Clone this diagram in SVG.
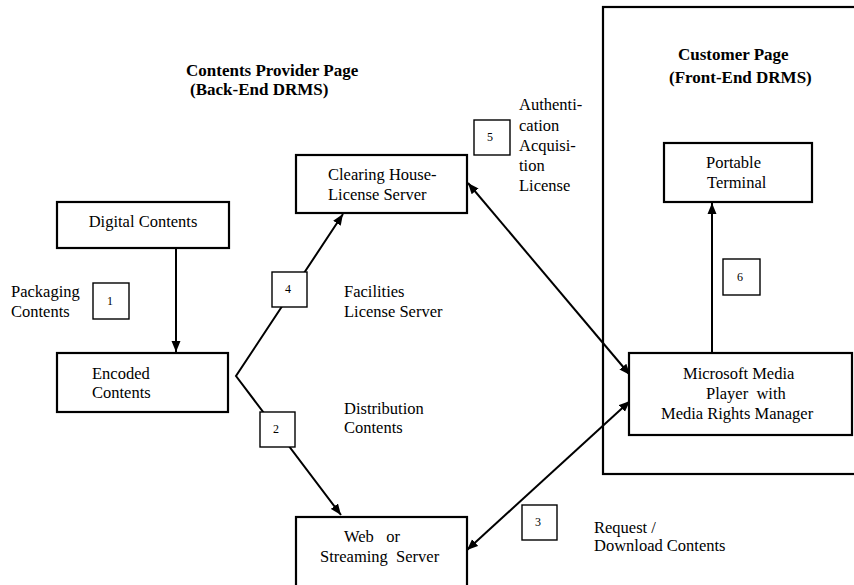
<svg xmlns="http://www.w3.org/2000/svg" width="854" height="585" viewBox="0 0 854 585">
<defs>
<style>
.bg{fill:#fff}
.box{fill:#fff;stroke:#000;stroke-width:2.2}
.nbox{fill:#fff;stroke:#000;stroke-width:1.4}
.t{font-family:"Liberation Serif","Times New Roman",serif;font-size:16.5px;fill:#000}
.b{font-family:"Liberation Serif","Times New Roman",serif;font-size:17px;font-weight:bold;fill:#000}
.n{font-family:"Liberation Serif","Times New Roman",serif;font-size:12px;fill:#000;text-anchor:middle}
.c{text-anchor:middle}
.ln{fill:none;stroke:#000;stroke-width:2}
</style>
<marker id="ah" markerUnits="userSpaceOnUse" markerWidth="12" markerHeight="10" refX="11" refY="4.5" orient="auto-start-reverse" viewBox="0 0 12 9">
<path d="M0,0 L11,4.5 L0,9 z" fill="#000"/>
</marker>
</defs>
<rect class="bg" x="0" y="0" width="854" height="585"/>

<g id="customer-page">
<rect x="603" y="7" width="260" height="467" fill="none" stroke="#000" stroke-width="2.2"/>
<text class="b" x="678" y="60">Customer Page</text>
<text class="b" x="669" y="83">(Front-End DRMS)</text>
</g>

<g id="provider-title">
<text class="b" x="186" y="76">Contents Provider Page</text>
<text class="b" x="190" y="95">(Back-End DRMS)</text>
</g>

<g id="connectors">
<line class="ln" x1="176" y1="248" x2="176" y2="352" marker-end="url(#ah)"/>
<polyline class="ln" points="343,214 236,376 341,515" marker-start="url(#ah)" marker-end="url(#ah)"/>
<line class="ln" x1="468" y1="183" x2="630" y2="375" marker-start="url(#ah)" marker-end="url(#ah)"/>
<line class="ln" x1="467" y1="550" x2="630" y2="401" marker-start="url(#ah)" marker-end="url(#ah)"/>
<line class="ln" x1="712" y1="353" x2="712" y2="203" marker-end="url(#ah)"/>
</g>

<g id="digital-contents">
<rect class="box" x="57" y="202" width="172" height="46"/>
<text class="t c" x="143" y="227">Digital Contents</text>
</g>

<g id="encoded-contents">
<rect class="box" x="57" y="353" width="171" height="59"/>
<text class="t" x="92" y="379">Encoded</text>
<text class="t" x="92" y="398">Contents</text>
</g>

<g id="label-packaging">
<text class="t" x="11" y="297">Packaging</text>
<text class="t" x="11" y="317">Contents</text>
<rect class="nbox" x="93" y="283" width="36" height="36"/>
<text class="n" x="110" y="305">1</text>
</g>

<g id="clearing-house">
<rect class="box" x="296" y="155" width="171" height="58"/>
<text class="t" x="328" y="180">Clearing House-</text>
<text class="t" x="328" y="200">License Server</text>
</g>

<g id="label-facilities">
<rect class="nbox" x="272" y="272" width="35" height="35"/>
<text class="n" x="288" y="293">4</text>
<text class="t" x="344" y="297">Facilities</text>
<text class="t" x="344" y="317">License Server</text>
</g>

<g id="label-distribution">
<rect class="nbox" x="260" y="412" width="35" height="35"/>
<text class="n" x="276" y="433">2</text>
<text class="t" x="344" y="414">Distribution</text>
<text class="t" x="344" y="433">Contents</text>
</g>

<g id="web-server">
<rect class="box" x="296" y="517" width="171" height="80"/>
<text class="t" x="344" y="542" xml:space="preserve">Web   or</text>
<text class="t" x="320" y="562" xml:space="preserve">Streaming  Server</text>
</g>

<g id="label-request">
<rect class="nbox" x="522" y="505" width="35" height="35"/>
<text class="n" x="538" y="526">3</text>
<text class="t" x="594" y="533">Request /</text>
<text class="t" x="594" y="551">Download Contents</text>
</g>

<g id="label-authentication">
<rect class="nbox" x="474" y="120" width="36" height="35"/>
<text class="n" x="490" y="141">5</text>
<text class="t" x="519" y="110">Authenti-</text>
<text class="t" x="519" y="131">cation</text>
<text class="t" x="519" y="151">Acquisi-</text>
<text class="t" x="519" y="171">tion</text>
<text class="t" x="519" y="191">License</text>
</g>

<g id="portable-terminal">
<rect class="box" x="664" y="143" width="148" height="59"/>
<text class="t" x="706" y="168">Portable</text>
<text class="t" x="707" y="188">Terminal</text>
</g>

<g id="label-6">
<rect class="nbox" x="723" y="259" width="37" height="36"/>
<text class="n" x="740" y="281">6</text>
</g>

<g id="media-player">
<rect class="box" x="629" y="353" width="223" height="82"/>
<text class="t" x="683" y="379">Microsoft Media</text>
<text class="t" x="706" y="399" xml:space="preserve">Player  with</text>
<text class="t" x="661" y="419">Media Rights Manager</text>
</g>
</svg>
